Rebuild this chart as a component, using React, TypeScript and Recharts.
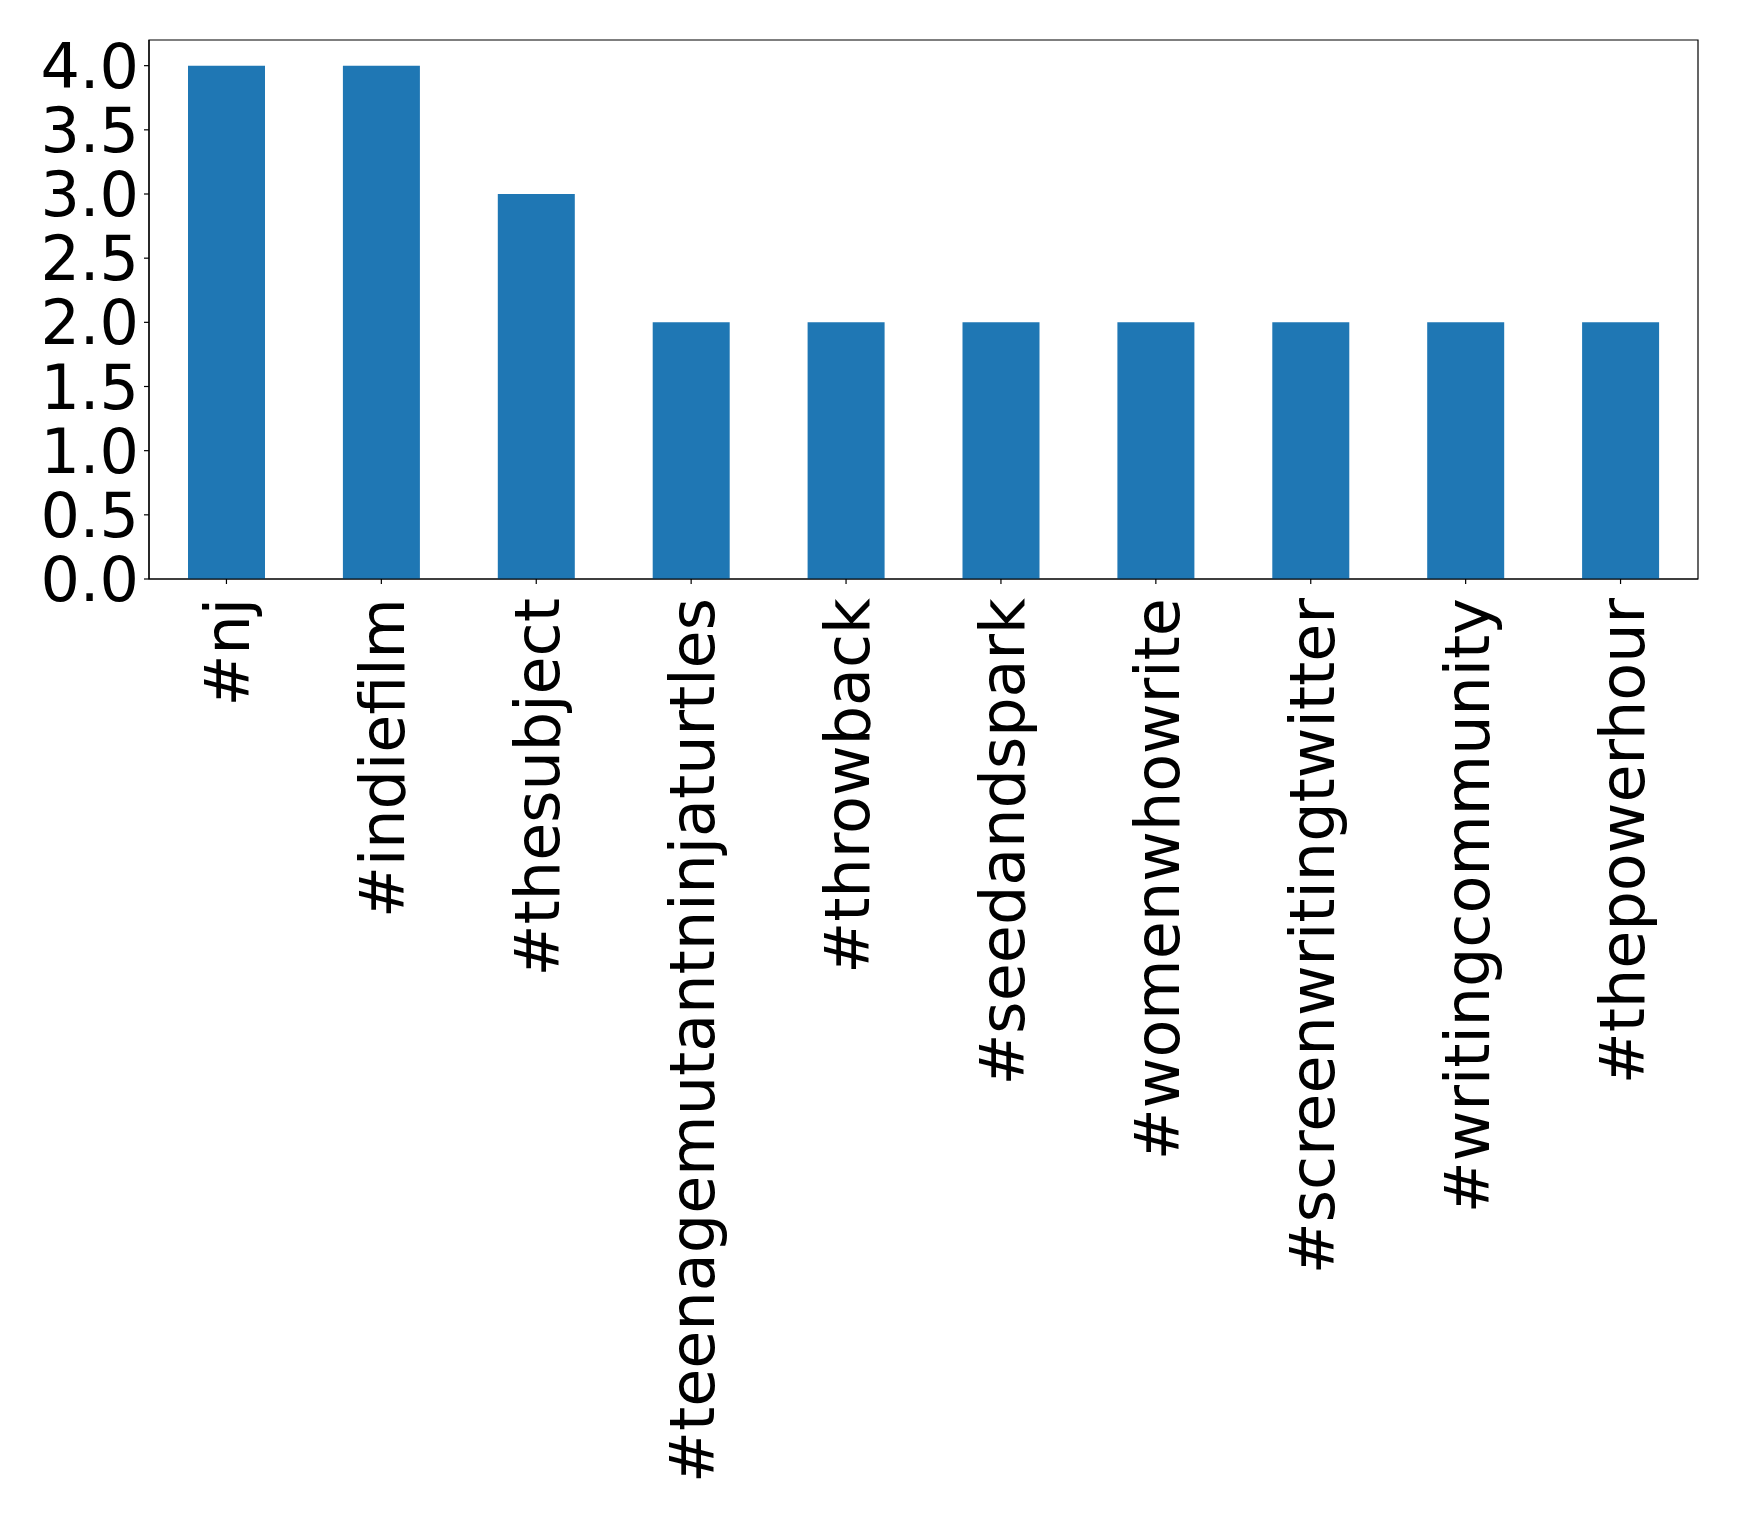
import { BarChart, Bar, XAxis, YAxis, ReferenceArea } from "recharts";

// hashtag counts
const tags = [
  "#nj",
  "#indiefilm",
  "#thesubject",
  "#teenagemutantninjaturtles",
  "#throwback",
  "#seedandspark",
  "#womenwhowrite",
  "#screenwritingtwitter",
  "#writingcommunity",
  "#thepowerhour",
];
const counts = [4, 4, 3, 2, 2, 2, 2, 2, 2, 2];
const yTicks = [0, 0.5, 1, 1.5, 2, 2.5, 3, 3.5, 4];
const yMax = 4.2;

const data = tags.map((tag, i) => ({ tag, count: counts[i] }));

const FONT = "'DejaVu Sans', sans-serif";

function RotatedTick(props: any) {
  const { x, y, payload } = props;
  return (
    <g transform={`translate(${x},${y}) rotate(-90)`}>
      <text
        x={0}
        y={0}
        dy="0.37em"
        textAnchor="end"
        fontSize={62}
        fontFamily={FONT}
        fill="#000"
      >
        {payload.value}
      </text>
    </g>
  );
}

export default function App() {
  return (
    <div style={{ position: "absolute", left: 0, top: 0, background: "#fff" }}>
      <BarChart
        width={1739}
        height={1520}
        data={data}
        margin={{ top: 40, right: 41, left: 0, bottom: 0 }}
      >
        <XAxis
          dataKey="tag"
          height={941}
          interval={0}
          tickSize={5}
          tickMargin={14}
          tickLine={{ stroke: "#000", strokeWidth: 1.2 }}
          axisLine={{ stroke: "#000", strokeWidth: 1.2 }}
          tick={<RotatedTick />}
        />
        <YAxis
          width={149}
          domain={[0, yMax]}
          ticks={yTicks}
          interval={0}
          tickSize={5}
          tickMargin={5}
          tickFormatter={(v: number) => v.toFixed(1)}
          tickLine={{ stroke: "#000", strokeWidth: 1.2 }}
          axisLine={{ stroke: "#000", strokeWidth: 1.2 }}
          tick={{ fontSize: 62, fontFamily: FONT, fill: "#000" }}
        />
        <Bar
          dataKey="count"
          fill="#1f77b4"
          barSize={77}
          isAnimationActive={false}
        />
        {/* frame round the plot, like matplotlib's four spines */}
        <ReferenceArea
          y1={0}
          y2={yMax}
          fill="none"
          fillOpacity={0}
          stroke="#000"
          strokeWidth={1.2}
          strokeOpacity={1}
        />
      </BarChart>
    </div>
  );
}
